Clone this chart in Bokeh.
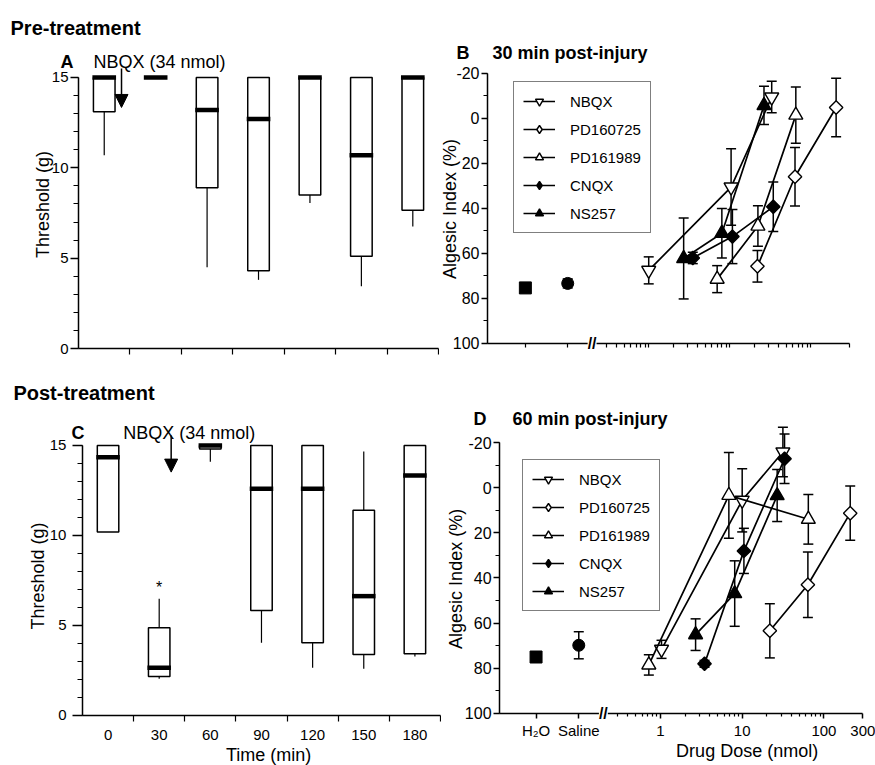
import numpy as np
from bokeh.plotting import figure
from bokeh.models import (Range1d, FixedTicker, Label, Arrow, NormalHead, Whisker, TeeHead,
                          ColumnDataSource, Legend, LegendItem)
from bokeh.layouts import column, row
from bokeh.embed import file_html
from bokeh.resources import INLINE

FONT = "Liberation Sans"

# ---------------- data ----------------
times = ["0", "30", "60", "90", "120", "150", "180"]
thr_ticks = [0, 5, 10, 15]

# Panel A (pre-treatment): threshold (g) box plots
a_q1 = [13.1, 15.0, 8.9, 4.3, 8.5, 5.1, 7.65]
a_q3 = [15.0, 15.0, 15.0, 15.0, 15.0, 15.0, 15.0]
a_med = [15.0, 15.0, 13.2, 12.7, 15.0, 10.7, 15.0]
a_lo = [10.7, 15.0, 4.5, 3.8, 8.05, 3.45, 6.75]
a_hi = [15.0, 15.0, 15.0, 15.0, 15.0, 15.0, 15.0]

# Panel C (post-treatment)
c_q1 = [10.2, 2.17, 14.8, 5.83, 4.04, 3.39, 3.43]
c_q3 = [15.0, 4.87, 15.0, 15.0, 15.0, 11.4, 15.0]
c_med = [14.35, 2.65, 15.0, 12.6, 12.6, 6.63, 13.33]
c_lo = [10.2, 2.04, 14.1, 4.04, 2.65, 2.6, 3.28]
c_hi = [15.0, 6.48, 15.0, 15.0, 15.0, 14.67, 15.0]

ai_ticks = [-20, 0, 20, 40, 60, 80, 100]
dose_ticks = [1, 10, 100, 300]
dose_minor = [0.3, 0.4, 0.5, 0.6, 0.7, 0.8, 0.9, 2, 3, 4, 5, 6, 7, 8, 9,
              20, 30, 40, 50, 60, 70, 80, 90]
ctrl_names = ["H₂O", "Saline"]
ctrl_pos = [0.03, 0.1]
drugs = ["NBQX", "PD160725", "PD161989", "CNQX", "NS257"]

# Panel B: 30 min post-injury
b_ctrl_val = [75.3, 73.3]
b_ctrl_err = [0.8, 2.0]
b_nbqx_dose = [1.0, 10.4, 33.0]
b_nbqx_val = [67.5, 30.5, -9.5]
b_nbqx_err = [6.0, 17.0, 7.0]
b_pd725_dose = [22.0, 64.0, 206.0]
b_pd725_val = [65.7, 25.9, -4.9]
b_pd725_err = [7.0, 13.0, 13.0]
b_pd989_dose = [7.0, 22.3, 65.5]
b_pd989_val = [71.4, 47.8, -1.5]
b_pd989_err = [6.0, 9.0, 12.5]
b_cnqx_dose = [3.5, 10.8, 34.5]
b_cnqx_val = [62.0, 52.5, 39.2]
b_cnqx_err = [2.5, 12.0, 11.0]
b_ns257_dose = [2.7, 8.0, 26.5]
b_ns257_val = [62.2, 51.0, -5.8]
b_ns257_err = [18.0, 11.0, 8.5]

# Panel D: 60 min post-injury
d_ctrl_val = [75.0, 69.8]
d_ctrl_err = [1.5, 6.0]
d_nbqx_dose = [1.03, 10.0, 31.5]
d_nbqx_val = [71.6, 5.6, -15.8]
d_nbqx_err = [4.0, 14.0, 11.0]
d_pd725_dose = [21.8, 63.7, 210.0]
d_pd725_val = [63.4, 43.0, 11.3]
d_pd725_err = [12.0, 14.5, 12.0]
d_pd989_dose = [0.72, 6.87, 64.5]
d_pd989_val = [78.5, 3.4, 14.0]
d_pd989_err = [4.5, 19.0, 11.0]
d_cnqx_dose = [3.46, 10.5, 33.0]
d_cnqx_val = [78.0, 28.0, -12.8]
d_cnqx_err = [1.5, 10.0, 11.0]
d_ns257_dose = [2.69, 8.1, 26.8]
d_ns257_val = [65.1, 46.9, 3.5]
d_ns257_err = [7.0, 14.5, 11.5]

STYLE = {
    "NBQX": dict(marker="inverted_triangle", size=14, fill_color="white", angle=0.0, leg="inverted_triangle"),
    "PD160725": dict(marker="square", size=9.5, fill_color="white", angle=np.pi / 4, leg="diamond"),
    "PD161989": dict(marker="triangle", size=14, fill_color="white", angle=0.0, leg="triangle"),
    "CNQX": dict(marker="square", size=9.5, fill_color="black", angle=np.pi / 4, leg="diamond"),
    "NS257": dict(marker="triangle", size=14, fill_color="black", angle=0.0, leg="triangle"),
}


def make_fig(w, h, xr, yr, x_axis_type="linear"):
    p = figure(width=w, height=h, min_border=0, min_border_left=0, min_border_right=0,
               min_border_top=0, min_border_bottom=0, x_range=xr, y_range=yr,
               x_axis_type=x_axis_type, output_backend="svg", toolbar_location=None)
    p.grid.visible = False
    p.outline_line_color = None
    p.background_fill_color = "white"
    p.border_fill_color = "white"
    for ax in p.axis:
        ax.axis_line_width = 1.5
        ax.axis_line_color = "black"
        ax.major_tick_line_width = 1.5
        ax.minor_tick_line_width = 1.2
        ax.major_tick_in = 0
        ax.minor_tick_in = 0
        ax.major_label_text_font = FONT
        ax.major_label_text_color = "black"
        ax.axis_label = None
    return p


def txt(p, x, y, text, size="18px", bold=False, align="left", baseline="alphabetic", angle=0.0, **kw):
    lab = Label(x=x, y=y, text=text, text_font=FONT, text_font_size=size,
                text_font_style="bold" if bold else "normal", text_align=align,
                text_baseline=baseline, angle=angle, text_color="black", **kw)
    p.add_layout(lab)
    return lab


def box_fig(q1, q3, med, lo, hi, w, h, xr, yr, show_xlabels, ytick_out, ystand):
    n = len(times)
    x = np.arange(n) + 0.5
    p = make_fig(w, h, xr, yr)
    p.segment(x0=x, y0=lo, x1=x, y1=q1, line_color="black", line_width=1.2)
    p.segment(x0=x, y0=q3, x1=x, y1=hi, line_color="black", line_width=1.2)
    p.vbar(x=x, width=0.42, bottom=q1, top=q3, fill_color="white",
           line_color="black", line_width=1.5)
    p.rect(x=x, y=med, width=0.46, height=4.5, height_units="screen",
           fill_color="black", line_color=None)
    xa = p.xaxis[0]
    xa.fixed_location = 0
    xa.bounds = (0, n)
    if show_xlabels:
        xa.ticker = FixedTicker(ticks=list(x), minor_ticks=list(range(1, n + 1)))
        xa.major_label_overrides = {float(xi): t for xi, t in zip(x, times)}
        xa.major_tick_out = 0
        xa.major_label_standoff = 9
        xa.major_label_text_font_size = "15px"
    else:
        xa.ticker = FixedTicker(ticks=[], minor_ticks=list(range(1, n + 1)))
    xa.minor_tick_out = 6
    ya = p.yaxis[0]
    ya.fixed_location = 0
    ya.bounds = (0, 15)
    ya.ticker = FixedTicker(ticks=thr_ticks, minor_ticks=list(range(0, 16)))
    ya.major_tick_out = ytick_out
    ya.minor_tick_out = 5
    ya.major_label_standoff = ystand
    ya.major_label_text_font_size = "15px"
    return p


def dose_fig(w, h, xr, yr, yaxis_x, ctrl_val, ctrl_err, series, show_xlabels, legend_loc):
    p = make_fig(w, h, xr, yr, x_axis_type="log")
    # controls
    csrc = ColumnDataSource(dict(base=ctrl_pos,
                                 upper=[v - e for v, e in zip(ctrl_val, ctrl_err)],
                                 lower=[v + e for v, e in zip(ctrl_val, ctrl_err)]))
    p.add_layout(Whisker(source=csrc, base="base", upper="upper", lower="lower",
                         dimension="height", line_width=1.5, level="underlay",
                         upper_head=TeeHead(size=10, line_width=1.5),
                         lower_head=TeeHead(size=10, line_width=1.5)))
    p.scatter(x=ctrl_pos[:1], y=ctrl_val[:1], marker="square", size=12,
              fill_color="black", line_color="black")
    p.scatter(x=ctrl_pos[1:], y=ctrl_val[1:], marker="circle", size=12,
              fill_color="black", line_color="black")
    for name, dose, val, err in series:
        src = ColumnDataSource(dict(base=dose, upper=[v - e for v, e in zip(val, err)],
                                    lower=[v + e for v, e in zip(val, err)]))
        p.add_layout(Whisker(source=src, base="base", upper="upper", lower="lower",
                             dimension="height", line_width=1.5, level="underlay",
                             upper_head=TeeHead(size=10, line_width=1.5),
                             lower_head=TeeHead(size=10, line_width=1.5)))
    items = []
    for name, dose, val, err in series:
        st = STYLE[name]
        lr = p.line(dose, val, line_color="black", line_width=1.7)
        sr = p.scatter(dose, val, marker=st["marker"], size=st["size"], angle=st["angle"],
                       fill_color=st["fill_color"], line_color="black", line_width=1.4)
        if st["leg"] != st["marker"]:
            # legend symbol only (draws nothing in the plot area)
            sr = p.scatter(x=[np.nan], y=[np.nan], marker=st["leg"], size=14,
                           fill_color=st["fill_color"], line_color="black", line_width=1.4)
        items.append(LegendItem(label=name, renderers=[lr, sr]))
    leg = Legend(items=items, location=legend_loc, border_line_color="black",
                 border_line_width=1.5, background_fill_color="white", background_fill_alpha=1.0,
                 label_text_font=FONT, label_text_font_size="15px", label_text_color="black",
                 glyph_width=32, glyph_height=20, label_height=20, spacing=8, padding=9,
                 margin=0, label_standoff=15)
    p.add_layout(leg)
    xa = p.xaxis[0]
    xa.fixed_location = 100
    xa.bounds = (yaxis_x, 300)
    if show_xlabels:
        xa.ticker = FixedTicker(ticks=ctrl_pos + dose_ticks, minor_ticks=dose_minor)
        ov = {ctrl_pos[i]: ctrl_names[i] for i in range(len(ctrl_pos))}
        ov.update({d: str(d) for d in dose_ticks})
        xa.major_label_overrides = ov
        xa.major_label_standoff = 4
        xa.major_label_text_font_size = "15px"
        xa.major_tick_out = 5
        xa.minor_tick_out = 3
    else:
        xa.ticker = FixedTicker(ticks=[], minor_ticks=ctrl_pos + dose_ticks + dose_minor)
        xa.minor_tick_out = 4
    ya = p.yaxis[0]
    ya.fixed_location = yaxis_x
    ya.bounds = (-20, 100)
    ya.ticker = FixedTicker(ticks=ai_ticks, minor_ticks=list(range(-20, 101, 10)))
    ya.major_label_overrides = {t: str(t) for t in ai_ticks}
    ya.major_tick_out = 6
    ya.minor_tick_out = 4
    ya.major_label_standoff = 2
    ya.major_label_text_font_size = "16px"
    # axis break
    txt(p, 0.2, 100, "//", size="16px", bold=True, align="center", baseline="middle",
        background_fill_color="white")
    return p


# ---------------- Panel A ----------------
pA = box_fig(a_q1, a_q3, a_med, a_lo, a_hi, 439, 360,
             Range1d(-1.517, 7.019), Range1d(-0.664, 19.26), False, 8, 2)
txt(pA, -1.322, 17.76, "Pre-treatment", size="20px", bold=True)
txt(pA, -0.35, 15.83, "A", size="18px", bold=True)
txt(pA, 0.29, 15.83, "NBQX (34 nmol)", size="18px")
pA.add_layout(Arrow(x_start=0.836, y_start=15.5, x_end=0.836, y_end=13.34, line_width=1.5,
                    end=NormalHead(size=13, fill_color="black", line_color="black")))
txt(pA, -0.69, 7.97, "Threshold (g)", size="18px", align="center", baseline="middle",
    angle=np.pi / 2)

# ---------------- Panel B ----------------
series_b = [("NBQX", b_nbqx_dose, b_nbqx_val, b_nbqx_err),
            ("PD160725", b_pd725_dose, b_pd725_val, b_pd725_err),
            ("PD161989", b_pd989_dose, b_pd989_val, b_pd989_err),
            ("CNQX", b_cnqx_dose, b_cnqx_val, b_cnqx_err),
            ("NS257", b_ns257_dose, b_ns257_val, b_ns257_err)]
pB = dose_fig(436, 360, Range1d(0.002612, 630.9), Range1d(107.56, -52.44), 0.01023,
              b_ctrl_val, b_ctrl_err, series_b, False, (74, 127))
txt(pB, 0.00424, -28.9, "B", size="18px", bold=True)
txt(pB, 0.0118, -28.9, "30 min post-injury", size="18px", bold=True)
txt(pB, 0.00357, 40.2, "Algesic Index (%)", size="18px", align="center", baseline="middle",
    angle=np.pi / 2)

# ---------------- Panel C ----------------
pC = box_fig(c_q1, c_q3, c_med, c_lo, c_hi, 441, 405,
             Range1d(-1.603, 7.020), Range1d(-2.778, 19.72), True, 10, 6)
txt(pC, -1.35, 17.94, "Post-treatment", size="20px", bold=True)
txt(pC, -0.215, 15.67, "C", size="18px", bold=True)
txt(pC, 0.795, 15.72, "NBQX (34 nmol)", size="18px")
pC.add_layout(Arrow(x_start=1.734, y_start=15.56, x_end=1.734, y_end=13.52, line_width=1.5,
                    end=NormalHead(size=13, fill_color="black", line_color="black")))
i30 = times.index("30")
txt(pC, i30 + 0.5, c_hi[i30] + 0.65, "*", size="16px", align="center")
txt(pC, 3.64, -2.2, "Time (min)", size="18px", align="center")
txt(pC, -0.87, 7.75, "Threshold (g)", size="18px", align="center", baseline="middle",
    angle=np.pi / 2)

# ---------------- Panel D ----------------
series_d = [("NBQX", d_nbqx_dose, d_nbqx_val, d_nbqx_err),
            ("PD160725", d_pd725_dose, d_pd725_val, d_pd725_err),
            ("PD161989", d_pd989_dose, d_pd989_val, d_pd989_err),
            ("CNQX", d_cnqx_dose, d_cnqx_val, d_cnqx_err),
            ("NS257", d_ns257_dose, d_ns257_val, d_ns257_err)]
pD = dose_fig(434, 405, Range1d(0.002089, 428.2), Range1d(123.05, -56.32), 0.01072,
              d_ctrl_val, d_ctrl_err, series_d, True, (81, 154))
txt(pD, 0.00515, -30.6, "D", size="18px", bold=True)
txt(pD, 0.01545, -30.6, "60 min post-injury", size="18px", bold=True)
txt(pD, 0.00315, 40.4, "Algesic Index (%)", size="18px", align="center", baseline="middle",
    angle=np.pi / 2)
txt(pD, 11.5, 116.7, "Drug Dose (nmol)", size="18px", align="center")

layout = column(row(pA, pB), row(pC, pD))
open("out.html", "w").write(file_html(layout, INLINE))
